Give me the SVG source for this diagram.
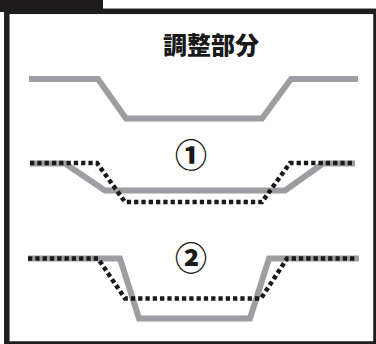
<svg xmlns="http://www.w3.org/2000/svg" width="376" height="344" viewBox="0 0 376 344">
<style>
.gray{fill:none;stroke:#9d9ea1;stroke-width:6;stroke-linejoin:miter}
.dot{fill:none;stroke:#1a1a1a;stroke-width:4.5;stroke-dasharray:4.3 3}
.cjk{font-family:"Noto Sans CJK JP","Noto Sans CJK SC",sans-serif;font-weight:900;fill:#1a1a1a}
</style>
<rect width="376" height="344" fill="#ffffff"/>
<g id="frame">
<rect x="0" y="0" width="103" height="12" fill="#1e1c1d"/>
<rect x="6.8" y="11.3" width="369.2" height="332.7" fill="none" stroke="#1e1c1d" stroke-width="5.5"/>
</g>
<g id="title"><text class="cjk" x="211" y="54" font-size="24" text-anchor="middle">調整部分</text></g>
<g id="connectors">
<polyline id="line-top" class="gray" points="29,79 98,79 126,118.5 262,118.5 291,79 358,79"/>
<polyline id="line1-gray" class="gray" points="30,163.5 65,163.5 105,190.5 285,190.5 323,163.5 355,163.5"/>
<polyline id="line2-gray" class="gray" points="28,258.5 120,258.5 139,318.5 250,318.5 269,258.5 359,258.5"/>
<polyline id="line1-dot" class="dot" points="30,163 97,163 125,202 262,202 290,163 354,163"/>
<polyline id="line2-dot" class="dot" points="28,258.5 98,258.5 125,298.5 261,298.5 287,258.5 355,258.5"/>
</g>
<g id="label1"><text class="cjk" x="191" y="167" font-size="32" text-anchor="middle">①</text></g>
<g id="label2"><text class="cjk" x="191" y="270" font-size="32" text-anchor="middle">②</text></g>
</svg>
